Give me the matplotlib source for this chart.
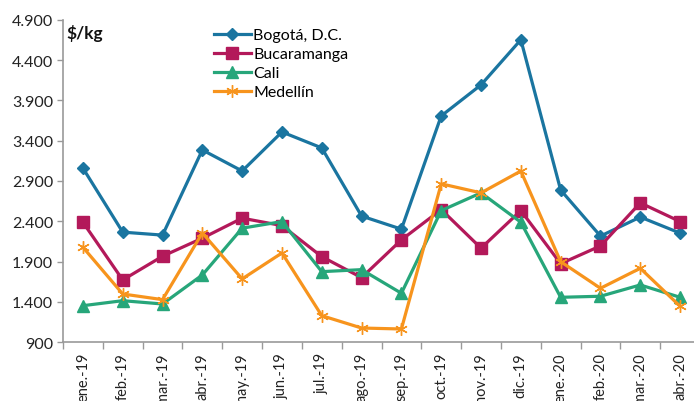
import matplotlib
matplotlib.use("Agg")
import matplotlib.pyplot as plt
from matplotlib.ticker import FuncFormatter, FixedLocator
import numpy as np

months = ["ene.-19", "feb.-19", "mar.-19", "abr.-19", "may.-19", "jun.-19", "jul.-19",
          "ago.-19", "sep.-19", "oct.-19", "nov.-19", "dic.-19", "ene.-20", "feb.-20",
          "mar.-20", "abr.-20"]
bogota = [3060, 2266, 2229, 3285, 3024, 3508, 3310, 2465, 2303, 3707, 4092, 4651, 2788, 2217, 2453, 2254]
bucaramanga = [2389, 1673, 1967, 2191, 2439, 2347, 1962, 1702, 2170, 2546, 2067, 2533, 1875, 2095, 2629, 2397]
cali = [1354, 1416, 1375, 1735, 2315, 2397, 1776, 1801, 1508, 2533, 2753, 2389, 1458, 1471, 1611, 1458]
medellin = [2079, 1499, 1429, 2256, 1686, 2008, 1230, 1077, 1065, 2865, 2753, 3024, 1900, 1570, 1818, 1347]
yticks = [900, 1400, 1900, 2400, 2900, 3400, 3900, 4400, 4900]

plt.rcParams['font.family'] = ['Lato', 'DejaVu Sans']

fig = plt.figure(figsize=(6.94, 4.02), dpi=100)
ax = fig.add_axes([63/694, (402-343.3)/402, (700-63)/694, (343.3-20.7)/402])

x = np.arange(len(months))
series = [
    ("Bogotá, D.C.", bogota, "#1A75A0", "D", 6.5, {}),
    ("Bucaramanga", bucaramanga, "#B3195A", "s", 8.5, {}),
    ("Cali", cali, "#27A67A", "^", 8.5, {}),
    ("Medellín", medellin, "#F7941D", (6, 2, 0), 9, {"markeredgewidth": 1.0}),
]
for name, vals, col, mk, ms, kw in series:
    ax.plot(x, vals, color=col, lw=2.3, marker=mk, markersize=ms,
            markerfacecolor=col, markeredgecolor=col, label=name, **kw)

ax.set_xlim(-0.5, len(months) - 0.5)
ax.set_ylim(900, 4900)
ax.set_yticks(yticks)
ax.yaxis.set_major_formatter(FuncFormatter(lambda v, p: f"{int(v):,}".replace(",", ".")))
ax.set_xticks(x)
ax.set_xticklabels(months, rotation=90)
ax.xaxis.set_minor_locator(FixedLocator(np.arange(-0.5, len(months), 1.0)))
ax.tick_params(axis='x', which='major', length=0, pad=7, labelsize=10.5, colors='#222222')
ax.tick_params(axis='x', which='minor', length=5, width=1, color='#999999')
ax.tick_params(axis='y', length=4, width=1, color='#999999', labelsize=11.5, pad=3, labelcolor='#222222')

for s in ['top', 'right']:
    ax.spines[s].set_visible(False)
for s in ['left', 'bottom']:
    ax.spines[s].set_color('#999999')
    ax.spines[s].set_linewidth(1.2)

fig.text(66/694, 1 - 34/402, "$/kg", fontsize=12.5, fontweight='bold', va='center', ha='left', color='#111111')

leg = ax.legend(loc='upper left', bbox_to_anchor=(214/694, 1 - 29/402), bbox_transform=fig.transFigure,
                frameon=False, fontsize=11.5, handlelength=2.3, handletextpad=0.15,
                labelspacing=0.3, borderpad=0, borderaxespad=0)

fig.savefig("out.png", dpi=100)
